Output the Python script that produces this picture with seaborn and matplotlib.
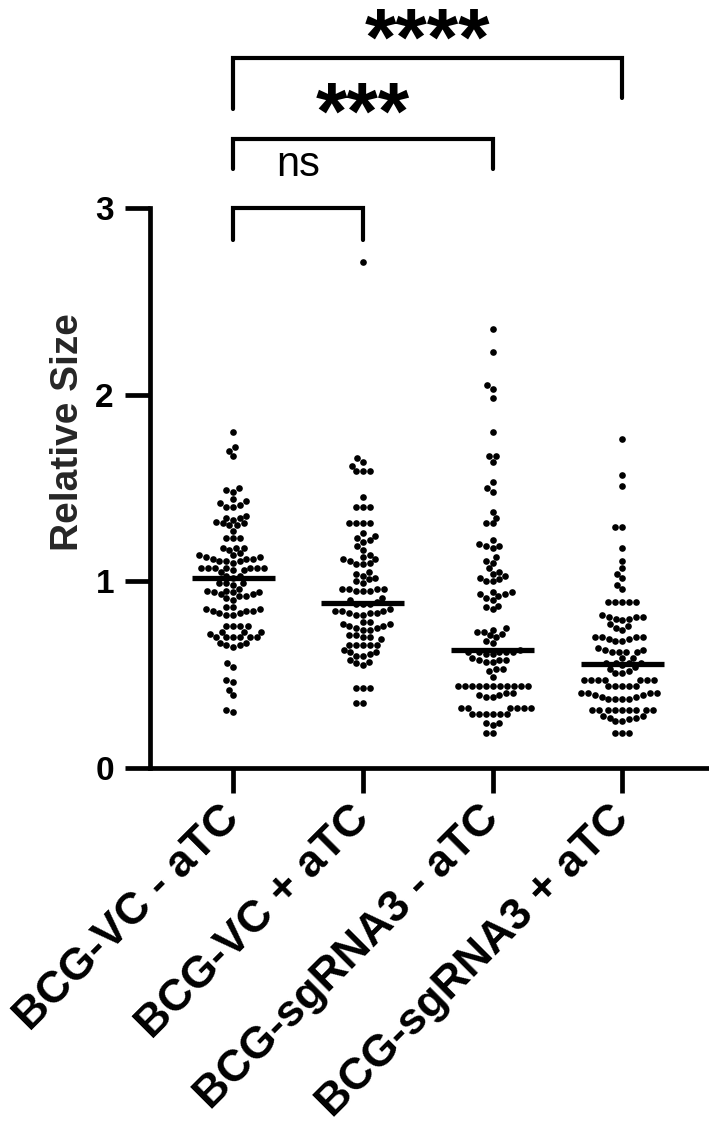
import numpy as np
import pandas as pd
import matplotlib
matplotlib.use("Agg")
import matplotlib.pyplot as plt
import seaborn as sns

# groups on the x axis
groups = ["BCG-VC - aTC", "BCG-VC + aTC", "BCG-sgRNA3 - aTC", "BCG-sgRNA3 + aTC"]

# relative size of each cell
vc_minus = [1.80, 1.72, 1.70, 1.67, 1.49, 1.48, 1.50,
            1.44, 1.43, 1.42, 1.41, 1.40, 1.40,
            1.35, 1.34, 1.34, 1.33, 1.32, 1.31, 1.31, 1.30, 1.30,
            1.27, 1.23, 1.23, 1.23, 1.18, 1.18, 1.18, 1.17,
            1.15, 1.14, 1.14, 1.13, 1.13, 1.12, 1.12, 1.12, 1.11, 1.11, 1.11, 1.10,
            1.07, 1.07, 1.07, 1.07, 1.07, 1.07, 1.07, 1.06, 1.06, 1.05,
            1.03, 1.03, 1.02,
            0.99, 0.99, 0.99, 0.98,
            0.96, 0.95, 0.95, 0.94, 0.94, 0.94, 0.93, 0.93, 0.92, 0.92, 0.91, 0.90,
            0.86, 0.86, 0.85, 0.85, 0.84, 0.84, 0.83, 0.83, 0.82, 0.82, 0.84,
            0.76, 0.76, 0.76, 0.76, 0.73, 0.73, 0.73, 0.72,
            0.70, 0.70, 0.70, 0.70, 0.70, 0.70, 0.67, 0.67, 0.66, 0.66, 0.65,
            0.56, 0.54, 0.47, 0.46, 0.42, 0.39, 0.31, 0.30]

vc_plus = [2.71, 1.66, 1.64, 1.62, 1.59, 1.59, 1.59, 1.45,
           1.40, 1.40, 1.40, 1.31, 1.31, 1.31, 1.31,
           1.26, 1.24, 1.23, 1.22, 1.21, 1.19, 1.17,
           1.14, 1.13, 1.12, 1.12, 1.11, 1.10, 1.09, 1.09,
           1.05, 1.04, 1.03, 1.02, 1.01, 1.00, 0.99,
           0.96, 0.96, 0.96, 0.96, 0.95, 0.95, 0.95,
           0.91, 0.90, 0.89, 0.88, 0.88, 0.88,
           0.85, 0.84, 0.84, 0.84, 0.83, 0.83, 0.83, 0.82, 0.82,
           0.78, 0.78, 0.77, 0.77, 0.76, 0.76, 0.75, 0.75, 0.74, 0.74,
           0.71, 0.71, 0.70, 0.70, 0.69, 0.66, 0.66, 0.66, 0.66, 0.66,
           0.63, 0.62, 0.62, 0.61, 0.60, 0.60, 0.58, 0.57, 0.56, 0.55,
           0.43, 0.43, 0.43, 0.35, 0.35]

sg_minus = [2.35, 2.23, 2.05, 2.03, 1.98, 1.80, 1.67, 1.67, 1.64, 1.53, 1.50, 1.48,
            1.37, 1.34, 1.31, 1.31, 1.22, 1.20, 1.19, 1.19, 1.18,
            1.13, 1.11, 1.10, 1.07, 1.05, 1.04, 1.03, 1.02, 1.01, 1.00, 1.00,
            0.94, 0.94, 0.93, 0.93, 0.92, 0.91, 0.90, 0.87, 0.86, 0.85,
            0.75, 0.74, 0.73, 0.73, 0.72, 0.71, 0.70, 0.68, 0.67,
            0.63, 0.62, 0.62, 0.62, 0.62, 0.62, 0.61, 0.61,
            0.59, 0.58, 0.58, 0.58, 0.57, 0.57, 0.53, 0.53, 0.52, 0.49,
            0.44, 0.44, 0.44, 0.44, 0.44, 0.44, 0.44, 0.44, 0.44, 0.44, 0.44,
            0.40, 0.40, 0.39, 0.39, 0.38, 0.38,
            0.32, 0.32, 0.32, 0.32, 0.32, 0.32, 0.29, 0.29, 0.29, 0.29, 0.29, 0.29,
            0.24, 0.24, 0.23, 0.19, 0.19]

sg_plus = [1.76, 1.57, 1.51, 1.29, 1.29, 1.18, 1.11, 1.07, 1.04, 1.02, 0.98, 0.96,
           0.89, 0.89, 0.89, 0.89, 0.89,
           0.82, 0.81, 0.81, 0.81, 0.80, 0.80, 0.79, 0.77, 0.76, 0.75, 0.74,
           0.70, 0.70, 0.70, 0.69, 0.69, 0.68, 0.68, 0.70,
           0.64, 0.63, 0.63, 0.62, 0.62, 0.62, 0.62, 0.59, 0.59,
           0.56, 0.56, 0.56, 0.56, 0.55, 0.54, 0.53, 0.52, 0.51, 0.51,
           0.47, 0.47, 0.47, 0.47, 0.47, 0.47, 0.47, 0.44, 0.44, 0.44, 0.44, 0.44,
           0.40, 0.40, 0.40, 0.40, 0.39, 0.39, 0.38, 0.38, 0.37, 0.37, 0.37, 0.37,
           0.31, 0.31, 0.31, 0.31, 0.31, 0.31, 0.31, 0.31, 0.31,
           0.28, 0.28, 0.27, 0.27, 0.26, 0.25, 0.25, 0.19, 0.19, 0.19]

# significance comparisons: (first group, second group, label)
comparisons = [(0, 1, "ns"), (0, 2, "***"), (0, 3, "****")]

sns.set_style("ticks")
plt.rcParams["font.family"] = ["Liberation Sans", "DejaVu Sans"]
plt.rcParams["axes.edgecolor"] = "black"
plt.rcParams["text.color"] = "black"
plt.rcParams["xtick.color"] = "black"
plt.rcParams["ytick.color"] = "black"

df = pd.DataFrame({
    "group": np.repeat(groups, [len(vc_minus), len(vc_plus), len(sg_minus), len(sg_plus)]),
    "size": vc_minus + vc_plus + sg_minus + sg_plus,
})

fig = plt.figure(figsize=(7.09, 11.41), dpi=100)
ax = fig.add_axes([150 / 709, 1 - 768 / 1141, 558 / 709, 768 / 1141])

sns.swarmplot(data=df, x="group", y="size", order=groups, color="black",
              size=4.8, ax=ax, linewidth=0)

medians = df.groupby("group")["size"].median().reindex(groups)
for i, med in enumerate(medians):
    ax.hlines(med, i - 0.32, i + 0.32, color="black", lw=3.8, zorder=5)

ax.set_xlim(-0.64, 3.66)
ax.set_ylim(0, 4.113)
ax.set_yticks([0, 1, 2, 3])
ax.spines["left"].set_bounds(0, 3)
ax.spines["top"].set_visible(False)
ax.spines["right"].set_visible(False)
for side in ["left", "bottom"]:
    ax.spines[side].set_linewidth(3.4)
ax.tick_params(axis="both", length=18, width=3.4, color="black", pad=8)
ax.tick_params(axis="y", labelsize=24)
for lab in ax.get_yticklabels():
    lab.set_fontweight("bold")
ax.set_xticks(range(len(groups)))
ax.set_xticklabels(groups, rotation=45, ha="right", va="center",
                   rotation_mode="anchor", fontsize=32, fontweight="bold")
ax.tick_params(axis="x", pad=14)
ax.set_xlabel("")
ax.set_ylabel("Relative Size", fontsize=28, fontweight="bold")
ax.yaxis.set_label_coords(-0.115, 0.4375)

# brackets: horizontal level, left leg end, right leg end, text level
levels = [3.00, 3.37, 3.80]
left_ends = [2.83, 3.21, 3.53]
right_ends = [2.83, 3.21, 3.59]
text_levels = [3.23, 3.62, 4.02]
for (a, b, label), lev, le, re, tl in zip(comparisons, levels, left_ends, right_ends, text_levels):
    ax.plot([a, a, b, b], [le, lev, lev, re], color="black", lw=3.0,
            solid_joinstyle="miter", clip_on=False)
    if label == "ns":
        ax.annotate(label, (a + (b - a) / 2, tl), xytext=(0, -0.27 * 30),
                    textcoords="offset points", ha="center", va="baseline",
                    fontsize=30)
    else:
        ax.annotate(label, (a + (b - a) / 2, tl), xytext=(0, -0.58 * 58),
                    textcoords="offset points", ha="center", va="baseline",
                    fontsize=58, fontweight="bold")

fig.savefig("out.png", dpi=100)
